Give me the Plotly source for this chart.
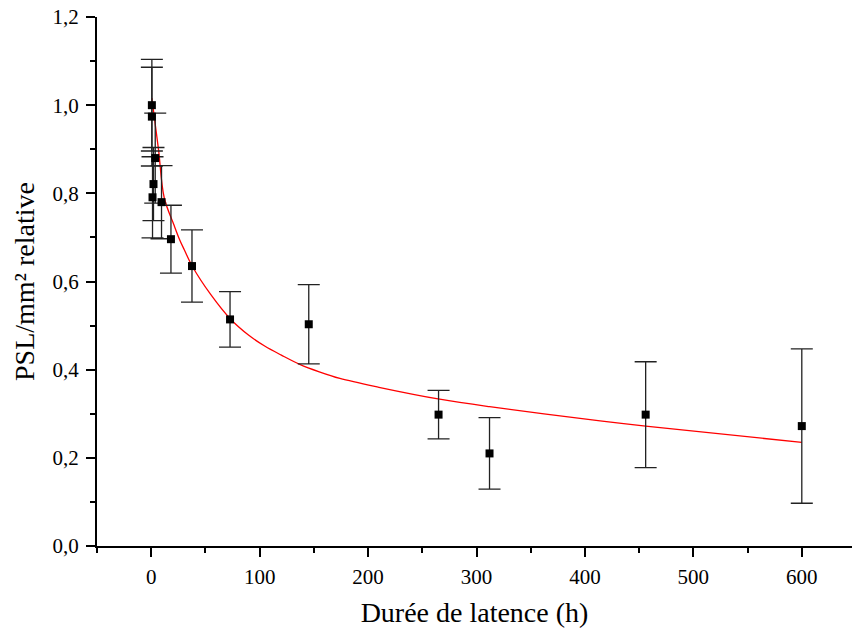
import plotly.graph_objects as go

# Measured data (latency in hours, relative PSL/mm²)
latence_h = [0.6, 0.6, 3.7, 2.1, 1.2, 9.5, 18.2, 37.6, 72.7, 145.3, 265, 312, 456, 600]
psl_rel = [1.000, 0.974, 0.880, 0.821, 0.791, 0.780, 0.696, 0.635, 0.514, 0.503, 0.298, 0.210, 0.298, 0.272]
erreur = [0.104, 0.112, 0.102, 0.083, 0.092, 0.083, 0.077, 0.082, 0.063, 0.090, 0.055, 0.081, 0.120, 0.175]

# Fitted curve, points
fit_x = [0.6, 2.8, 6.8, 12, 21, 26, 30.5, 38, 55, 73, 90, 105, 120, 137, 155, 174, 210,
         266, 312, 414, 456, 600]
fit_y = [1.016, 0.974, 0.898, 0.790, 0.728, 0.696, 0.672, 0.634, 0.570, 0.515, 0.478,
         0.453, 0.433, 0.412, 0.395, 0.380, 0.360, 0.333, 0.316, 0.284, 0.272, 0.235]

x_ticks = [0, 100, 200, 300, 400, 500, 600]
y_ticks = [0.0, 0.2, 0.4, 0.6, 0.8, 1.0, 1.2]

serif = "Liberation Serif, Times New Roman, serif"

fig = go.Figure()
fig.add_trace(go.Scatter(
    x=fit_x, y=fit_y, mode="lines",
    line=dict(color="#ff0000", width=1.3, shape="spline", smoothing=1.0),
    showlegend=False, hoverinfo="skip"))
fig.add_trace(go.Scatter(
    x=latence_h, y=psl_rel, mode="markers",
    marker=dict(symbol="square", size=8, color="black"),
    error_y=dict(type="data", array=erreur, visible=True, color="#222222",
                 thickness=1.3, width=11),
    showlegend=False))

fig.update_layout(
    width=852, height=635,
    margin=dict(l=97, r=0, t=17, b=89, autoexpand=False),
    paper_bgcolor="white", plot_bgcolor="white",
    separators=", ",
    font=dict(family=serif, color="black", size=21),
    xaxis=dict(
        range=[-50, 646.3], tickvals=x_ticks, ticks="outside", ticklen=9, tickwidth=2,
        tickcolor="black", showline=True, linecolor="black", linewidth=2,
        showgrid=False, zeroline=False, tickfont=dict(size=21, family=serif),
        ticklabelstandoff=2, automargin=False,
        minor=dict(dtick=50, tick0=-50, ticks="outside", ticklen=5, tickwidth=2,
                   tickcolor="black", showgrid=False),
        title=dict(text="Durée de latence (h)", font=dict(size=28, family=serif), standoff=14),
    ),
    yaxis=dict(
        range=[0, 1.2], tickvals=y_ticks, tickformat=".1f", ticks="outside", ticklen=9,
        tickwidth=2, tickcolor="black", showline=True, linecolor="black", linewidth=2,
        showgrid=False, zeroline=False, tickfont=dict(size=21, family=serif),
        ticklabelstandoff=3, automargin=False,
        minor=dict(dtick=0.1, tick0=0, ticks="outside", ticklen=5, tickwidth=2,
                   tickcolor="black", showgrid=False),
        title=dict(text="PSL/mm² relative", font=dict(size=28, family=serif), standoff=10),
    ),
)

fig.write_html("out.html", config={"displayModeBar": False},
               post_script="document.body.style.margin='0';document.body.style.overflow='hidden';")
